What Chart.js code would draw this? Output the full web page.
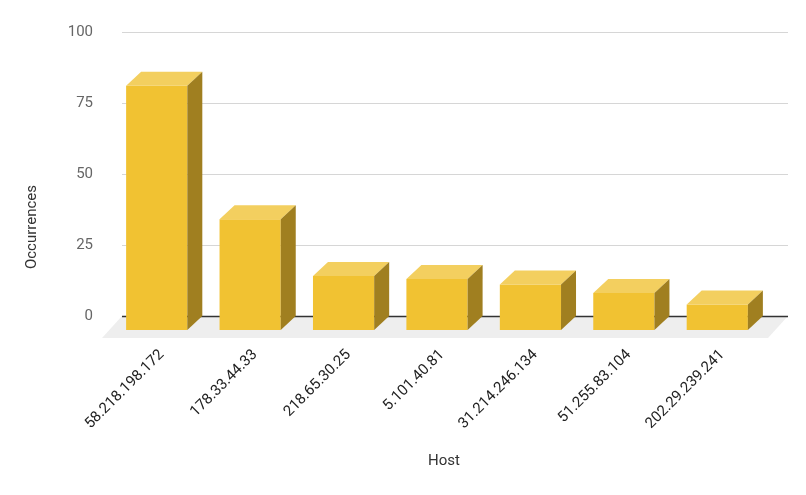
<!DOCTYPE html>
<html>
<head>
<meta charset="utf-8">
<script src="https://cdn.jsdelivr.net/npm/chart.js@4.4.1/dist/chart.umd.min.js"></script>
<style>
  html, body { margin: 0; padding: 0; background: #fff; }
  #wrap { width: 806px; height: 495px; }
</style>
</head>
<body>
<div id="wrap"><canvas id="myChart" width="806" height="495"></canvas></div>
<script>
// data
const hosts = ['58.218.198.172', '178.33.44.33', '218.65.30.25', '5.101.40.81', '31.214.246.134', '51.255.83.104', '202.29.239.241'];
const occurrences = [86, 39, 19, 18, 16, 13, 9];
const yTicks = [0, 25, 50, 75, 100];

const frontColor = '#f1c232';
const topColor = '#f3cf5f';
const sideColor = '#a07f20';
const depth = { x: 15, y: 14 };

// back wall grid, floor and the 3d faces of the boxes
const box3d = {
    id: 'box3d',
    beforeDatasetsDraw(chart) {
        const { ctx, chartArea: a, scales } = chart;
        const zero = scales.y.getPixelForValue(0);
        const gl = a.left - 3, gr = a.right + 9;
        ctx.save();
        ctx.fillStyle = '#eeeeee';
        ctx.beginPath();
        ctx.moveTo(gl, zero);
        ctx.lineTo(gr, zero);
        ctx.lineTo(gr - 20, zero + 22);
        ctx.lineTo(gl - 20, zero + 22);
        ctx.closePath();
        ctx.fill();

        yTicks.forEach(v => {
            const py = Math.round(scales.y.getPixelForValue(v)) + 0.5;
            ctx.beginPath();
            ctx.moveTo(gl, py);
            ctx.lineTo(gr, py);
            ctx.strokeStyle = v === 0 ? '#333333' : '#d6d6d6';
            ctx.lineWidth = v === 0 ? 1.5 : 1;
            ctx.stroke();
        });
        ctx.restore();

        // the library draws the front faces, pushed forward
        ctx.save();
        ctx.translate(-depth.x, depth.y);
    },
    afterDatasetsDraw(chart) {
        const ctx = chart.ctx;
        ctx.restore();
        const dx = depth.x, dy = depth.y;
        chart.getDatasetMeta(0).data.forEach(bar => {
            const { x, y, base, width } = bar.getProps(['x', 'y', 'base', 'width'], true);
            const l = x - width / 2 - dx, r = x + width / 2 - dx;
            const t = y + dy, b = base + dy;
            ctx.save();
            ctx.fillStyle = topColor;
            ctx.beginPath();
            ctx.moveTo(l, t);
            ctx.lineTo(l + dx, t - dy);
            ctx.lineTo(r + dx, t - dy);
            ctx.lineTo(r, t);
            ctx.closePath();
            ctx.fill();
            ctx.fillStyle = sideColor;
            ctx.beginPath();
            ctx.moveTo(r, t);
            ctx.lineTo(r + dx, t - dy);
            ctx.lineTo(r + dx, b - dy);
            ctx.lineTo(r, b);
            ctx.closePath();
            ctx.fill();
            ctx.restore();
        });
    },
    afterDraw(chart) {
        const { ctx, chartArea: a } = chart;
        ctx.save();
        ctx.font = '15px Roboto';
        ctx.fillStyle = '#333333';
        ctx.textAlign = 'center';
        ctx.textBaseline = 'middle';
        ctx.fillText('Host', (a.left + a.right) / 2 - 8, 461);
        ctx.translate(32, 227);
        ctx.rotate(-Math.PI / 2);
        ctx.fillText('Occurrences', 0, 0);
        ctx.restore();
    }
};

const ctx = document.getElementById('myChart').getContext('2d');
const chart = new Chart(ctx, {
    type: 'bar',
    data: {
        labels: hosts,
        datasets: [{
            label: 'Occurrences',
            data: occurrences,
            backgroundColor: frontColor,
            borderWidth: 0,
            categoryPercentage: 1,
            barPercentage: 0.655
        }]
    },
    options: {
        responsive: false,
        animation: false,
        layout: { padding: { top: 32, right: 27, left: 0, bottom: 0 } },
        plugins: {
            legend: { display: false },
            tooltip: { enabled: false }
        },
        scales: {
            x: {
                grid: { display: false, drawTicks: false },
                border: { display: false },
                ticks: {
                    minRotation: 45,
                    maxRotation: 45,
                    labelOffset: -10,
                    padding: 30,
                    color: '#222222',
                    font: { family: 'Roboto', size: 15 }
                },
                afterFit(scale) { scale.height = 179; }
            },
            y: {
                min: 0,
                max: 100,
                grid: { display: false, drawTicks: false },
                border: { display: false },
                ticks: {
                    stepSize: 25,
                    padding: 32,
                    color: '#666666',
                    font: { family: 'Roboto', size: 15 }
                },
                afterFit(scale) {
                    scale.width = 125;
                    scale.paddingTop = 0;
                    scale.paddingBottom = 0;
                }
            }
        }
    },
    plugins: [box3d]
});
</script>
</body>
</html>
